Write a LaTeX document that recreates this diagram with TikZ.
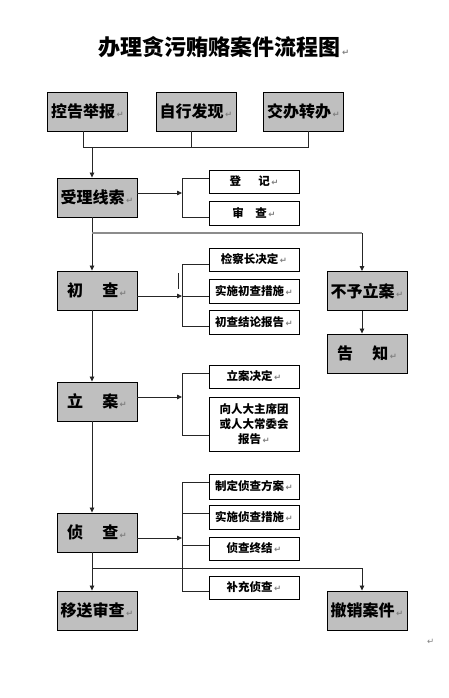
\documentclass[tikz,border=0pt]{standalone}
\usepackage{fontspec}
\newfontfamily\cjk{Noto Sans CJK SC}
\newfontfamily\dvf{DejaVu Sans}
\usetikzlibrary{arrows.meta}
\newcommand\retmark{{\dvf\fontsize{8.5}{8.5}\selectfont\color{black!50}\,↵}}
\begin{document}
\begin{tikzpicture}[x=1pt,y=-1pt,
  bigbox/.style={draw=black, line width=0.9pt, fill=black!25, minimum width=80, minimum height=39, inner sep=0pt, font=\cjk\bfseries\fontsize{16}{18}\selectfont},
  smallbox/.style={draw=black, line width=0.9pt, fill=white, minimum width=90, inner sep=0pt, font=\cjk\bfseries\fontsize{11.5}{15}\selectfont, align=center},
  ln/.style={draw=black!85, line width=0.8pt},
  arr/.style={ln, -{Triangle[length=5pt,width=4.5pt]}},
  gln/.style={draw=black!45, line width=1.5pt}
]
\useasboundingbox (0,0) rectangle (448,698);
\fill[white] (0,0) rectangle (448,698);

\node[font=\cjk\bfseries\fontsize{22}{24}\selectfont] (title) at (224,47) {办理贪污贿赂案件流程图\retmark};

% top sources
\node[bigbox] (kg) at (87.5,111.5) {控告举报\retmark};
\node[bigbox] (zx) at (196,111.5) {自行发现\retmark};
\node[bigbox] (jb) at (303.5,111.5) {交办转办\retmark};

% main column
\node[bigbox] (sl) at (97,197.5) {受理线索\retmark};
\node[bigbox] (cc) at (97,290.5) {初\hspace{1.2em}查\retmark};
\node[bigbox] (la) at (97,401.5) {立\hspace{1.2em}案\retmark};
\node[bigbox] (zc) at (97,532.5) {侦\hspace{1.2em}查\retmark};
\node[bigbox] (ys) at (97,610.5) {移送审查\retmark};

% right column
\node[bigbox] (by) at (367,291) {不予立案\retmark};
\node[bigbox] (gz) at (367,353.5) {告\hspace{1.2em}知\retmark};
\node[bigbox] (cx) at (367,610.5) {撤销案件\retmark};

% small boxes
\node[smallbox, minimum height=23] (dj) at (254,181.5) {登\hspace{1.5em}记\retmark};
\node[smallbox, minimum height=24] (sc) at (254,213) {审\hspace{1em}查\retmark};
\node[smallbox, minimum height=23] (jc) at (254,259.5) {检察长决定\retmark};
\node[smallbox, minimum height=24] (ss) at (254,291) {实施初查措施\retmark};
\node[smallbox, minimum height=24] (jl) at (254,322) {初查结论报告\retmark};
\node[smallbox, minimum height=23] (ld) at (254,376.5) {立案决定\retmark};
\node[smallbox, minimum height=54] (rd) at (254,424) {向人大主席团\\或人大常委会\\报告\retmark};
\node[smallbox, minimum height=25] (zd) at (254,486.5) {制定侦查方案\retmark};
\node[smallbox, minimum height=24] (sz) at (254,517) {实施侦查措施\retmark};
\node[smallbox, minimum height=23] (zj) at (254,548.5) {侦查终结\retmark};
\node[smallbox, minimum height=23] (bc) at (254,587.5) {补充侦查\retmark};

% helper coordinates
\coordinate (sp) at (92,0);
\coordinate (rp) at (362,0);
\coordinate (j1) at (83,147);
\coordinate (j2) at (191,147);
\coordinate (j3) at (308,147);
\coordinate (jm) at (92,147);

% top merge
\draw[ln] (kg.south -| j1) -- (j1) -- (j3) -- (jb.south -| j3);
\draw[ln] (zx.south -| j2) -- (j2);
\draw[arr] (jm) -- (sl.north -| sp);

% spine
\coordinate (s1) at (92,233);
\coordinate (r1) at (362,233);
\draw[ln] (sl.south -| sp) -- (s1);
\draw[arr] (s1) -- (cc.north -| sp);
\draw[gln] (s1) -- (r1);
\draw[arr] (r1) -- (by.north -| rp);
\draw[arr] (by.south -| rp) -- (gz.north -| rp);
\draw[arr] (cc.south -| sp) -- (la.north -| sp);
\draw[arr] (la.south -| sp) -- (zc.north -| sp);
\coordinate (s2) at (92,568);
\coordinate (r2) at (362,568);
\draw[ln] (zc.south -| sp) -- (s2);
\draw[arr] (s2) -- (ys.north -| sp);
\draw[ln] (s2) -- (r2);
\draw[arr] (r2) -- (cx.north -| rp);

% bracket 1
\coordinate (a1) at (182,193);
\coordinate (b1t) at (182,178);
\coordinate (b1b) at (182,217);
\draw[arr] (sl.east |- a1) -- (a1);
\draw[ln] (dj.west |- b1t) -- (b1t) -- (b1b) -- (sc.west |- b1b);

% bracket 2
\coordinate (a2) at (182,296);
\coordinate (b2t) at (182,264);
\coordinate (b2b) at (182,326);
\draw[arr] (cc.east |- a2) -- (a2);
\draw[ln] (jc.west |- b2t) -- (b2t) -- (b2b) -- (jl.west |- b2b);
\draw[ln] (a2) -- (ss.west |- a2);
\coordinate (m1) at (178,273);
\coordinate (m2) at (178,289);
\draw[ln] (m1) -- (m2);

% bracket 3
\coordinate (a3) at (182,397);
\coordinate (b3t) at (182,373);
\coordinate (b3b) at (182,435);
\draw[arr] (la.east |- a3) -- (a3);
\draw[ln] (ld.west |- b3t) -- (b3t) -- (b3b) -- (rd.west |- b3b);

% bracket 4
\coordinate (a4) at (182,538);
\coordinate (b4t) at (182,482);
\coordinate (b4a) at (182,513);
\coordinate (b4c) at (182,545);
\coordinate (b4b) at (182,591);
\draw[arr] (zc.east |- a4) -- (a4);
\draw[ln] (zd.west |- b4t) -- (b4t) -- (b4b) -- (bc.west |- b4b);
\draw[ln] (b4a) -- (sz.west |- b4a);
\draw[ln] (b4c) -- (zj.west |- b4c);

\node (endmark) at (430,642) {\retmark};
\end{tikzpicture}
\end{document}
